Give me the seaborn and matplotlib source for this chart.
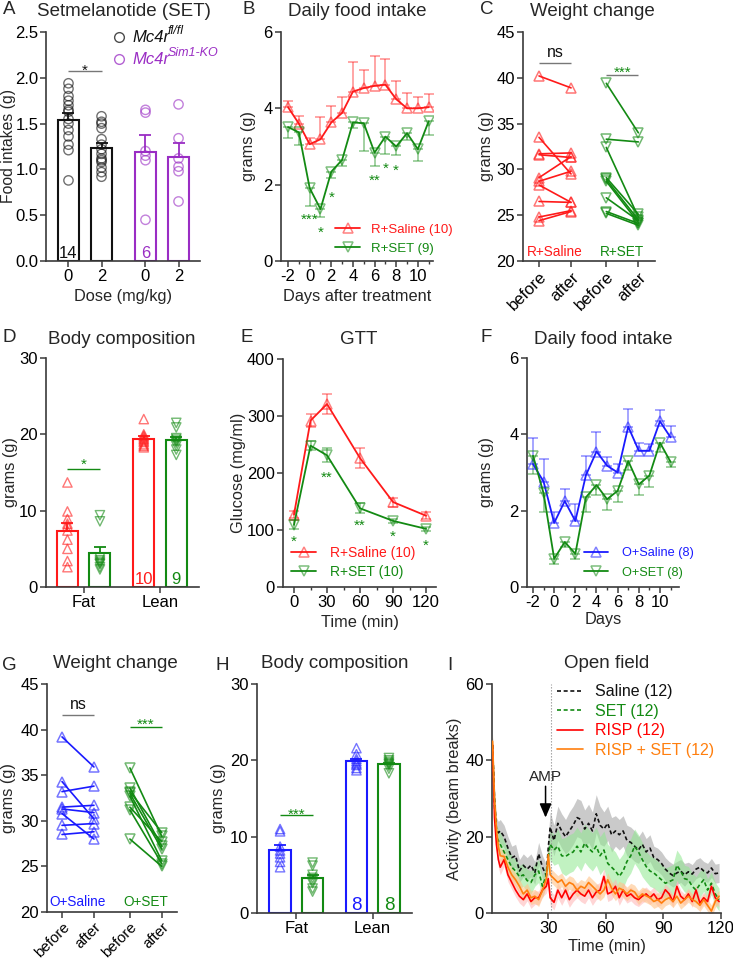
import numpy as np
import pandas as pd
import matplotlib
matplotlib.use("Agg")
import matplotlib.pyplot as plt
from matplotlib.lines import Line2D
from matplotlib.colors import to_rgba
from matplotlib.ticker import MultipleLocator
import seaborn as sns

# ======================= DATA =======================
# Panel A: food intake (g) after setmelanotide
A_tick_labels = ["0", "2", "0", "2"]
A_fl_0 = [1.94, 1.88, 1.80, 1.75, 1.70, 1.65, 1.63, 1.55, 1.50, 1.43, 1.36, 1.27, 1.21, 0.88]
A_fl_2 = [1.58, 1.52, 1.50, 1.45, 1.33, 1.27, 1.22, 1.17, 1.12, 1.10, 1.08, 1.02, 0.97, 0.92]
A_ko_0 = [1.65, 1.62, 1.20, 1.15, 1.10, 0.45]
A_ko_2 = [1.71, 1.34, 1.12, 1.03, 0.98, 0.65]

# Panel B: daily food intake (g), R mice
B_days = [-2, -1, 0, 1, 2, 3, 4, 5, 6, 7, 8, 9, 10, 11]
B_saline = [4.03, 3.60, 3.06, 3.19, 3.63, 3.88, 4.44, 4.53, 4.59, 4.62, 4.24, 4.00, 4.00, 4.03]
B_saline_sem = [0.17, 0.19, 0.16, 0.57, 0.44, 0.43, 0.77, 0.47, 0.79, 0.67, 0.48, 0.40, 0.29, 0.34]
B_set = [3.51, 3.37, 1.91, 1.36, 2.34, 2.65, 3.63, 3.61, 2.84, 3.26, 3.00, 3.35, 2.93, 3.66]
B_set_sem = [0.29, 0.33, 0.47, 0.21, 0.17, 0.17, 0.15, 0.74, 0.34, 0.45, 0.22, 0.17, 0.32, 0.35]
B_star_x = [0, 1, 2, 6, 7, 8]
B_star_y = [1.21, 0.86, 1.79, 2.23, 2.55, 2.48]
B_star_txt = ["***", "*", "*", "**", "*", "*"]

# Panel C: body weight before/after (g), R mice
C_saline_before = [40.2, 33.5, 31.7, 31.6, 29.1, 28.7, 28.3, 26.5, 24.8, 24.4]
C_saline_after = [38.9, 29.5, 31.8, 31.3, 31.4, 29.8, 26.4, 26.4, 25.5, 25.4]
C_set_before = [39.4, 33.3, 32.4, 29.1, 28.9, 28.7, 26.9, 25.4, 25.2]
C_set_after = [34.0, 33.0, 24.8, 25.1, 24.5, 24.2, 24.4, 24.1, 23.9]
C_tick_labels = ["before", "after", "before", "after"]

# Panel D: body composition (g), R mice
D_tick_labels = ["Fat", "Lean"]
D_fat_saline = [13.7, 9.9, 8.9, 8.3, 8.0, 7.4, 6.2, 5.0, 3.4, 2.6]
D_fat_set = [9.4, 8.6, 3.8, 3.5, 3.3, 3.1, 3.0, 2.6, 2.3]
D_lean_saline = [22.0, 20.0, 19.8, 19.6, 19.4, 19.2, 19.0, 18.7, 18.5, 18.3]
D_lean_set = [21.5, 20.9, 19.5, 19.3, 19.1, 18.9, 18.5, 18.0, 17.3]

# Panel E: GTT glucose
E_time = [0, 15, 30, 60, 90, 120]
E_saline = [127, 292, 321, 226, 149, 125]
E_saline_sem = [6, 12, 17, 17, 8, 6]
E_set = [109, 248, 231, 138, 116, 102]
E_set_sem = [8, 8, 12, 9, 4, 4]
E_star_x = [0, 30, 60, 90, 120]
E_star_y = [87, 200, 115, 97, 80]
E_star_txt = ["*", "**", "**", "*", "*"]

# Panel F: daily food intake (g), O mice
F_days = [-2, -1, 0, 1, 2, 3, 4, 5, 6, 7, 8, 9, 10, 11]
F_saline = [3.22, 2.76, 1.68, 2.25, 1.73, 2.93, 3.55, 3.18, 3.00, 4.20, 3.57, 3.57, 4.34, 3.92]
F_saline_sem = [0.68, 0.59, 0.29, 0.33, 0.44, 0.50, 0.50, 0.23, 0.22, 0.46, 0.20, 0.18, 0.29, 0.31]
F_set = [3.44, 2.45, 0.74, 1.18, 0.87, 2.35, 2.67, 2.30, 2.52, 3.30, 2.69, 2.92, 3.78, 3.28]
F_set_sem = [0.48, 0.48, 0.15, 0.13, 0.14, 0.39, 0.26, 0.29, 0.29, 0.24, 0.28, 0.29, 0.23, 0.13]

# Panel G: body weight before/after (g), O mice
G_saline_before = [39.2, 34.3, 33.2, 31.5, 31.3, 30.8, 29.5, 28.5]
G_saline_after = [35.9, 30.2, 33.8, 31.7, 30.9, 28.0, 29.7, 28.8]
G_set_before = [35.8, 33.6, 33.2, 33.0, 32.7, 31.5, 31.2, 28.0]
G_set_after = [28.3, 27.2, 28.7, 26.9, 25.6, 27.7, 25.3, 25.0]

# Panel H: body composition (g), O mice
H_fat_saline = [11.0, 10.7, 8.7, 8.2, 7.8, 7.3, 6.7, 6.0]
H_fat_set = [6.6, 6.2, 5.0, 4.6, 4.2, 3.9, 3.2, 2.8]
H_lean_saline = [21.6, 20.8, 20.2, 19.9, 19.6, 19.4, 19.0, 18.7]
H_lean_set = [20.3, 20.0, 19.8, 19.6, 19.5, 19.3, 18.9, 18.3]

# Panel I: open field activity (beam breaks)
I_time = [1, 2, 3, 4, 5, 7, 9, 11, 13, 15, 17, 19, 21, 23, 25, 27, 29, 30,
          31, 33, 35, 37, 39, 41, 43, 45, 47, 49, 51, 53, 55, 57, 59, 61, 63, 65, 67, 69,
          71, 73, 75, 77, 79, 81, 83, 85, 87, 89, 91, 93, 95, 97, 99, 101, 103, 105, 107, 109,
          111, 113, 115, 117, 119]
I_saline = [44, 30, 22, 21, 21.5,
            20, 17, 14.5, 15, 11, 12.5, 11.5, 12.5, 10.5, 15.5, 12, 9.8,
            17,
            22.5, 19, 23.5, 21.5, 20, 21.5, 23, 25, 24.5, 22,
            23.5, 21.5, 26, 23, 22, 23.5, 20.5, 21.5, 20.5, 21.5,
            19, 18.5, 17.5, 16.5, 18, 16, 17, 14.5, 14, 13,
            11.5, 10.5, 9.8, 10.5, 11, 10, 10.8, 10.2, 11.5, 12,
            11, 10.5, 11.8, 10.3, 10.5]
I_saline_sem = [2, 3, 3, 3, 3,
                3, 3, 3, 3, 3, 3, 3, 3, 3, 3, 3, 3,
                3,
                4, 4, 4.5, 4.5, 4.5, 5, 5, 5, 5, 5,
                5, 5, 5, 5, 4.5, 4.5, 4.5, 4, 4, 4,
                4, 4, 4, 3.5, 3.5, 3.5, 3.5, 3, 3, 3,
                3, 3, 3, 3, 3, 3, 2.5, 2.5, 2.5, 2.5,
                2.5, 2.5, 2.5, 2.5, 2.5]
I_set = [44, 28, 20, 19, 18,
         16, 14, 12, 11, 9.5, 10, 8.5, 8, 10, 11, 7, 10,
         14.5,
         18, 16.5, 17.5, 15, 14.8, 15.5, 16, 17.5, 16, 18.3,
         17, 16, 17.5, 15, 16.5, 13, 12, 11, 9.6, 11,
         13.5, 15, 17.5, 16, 14, 12.2, 11, 10.5, 9.6, 8.7,
         7.8, 8.2, 8.7, 12.5, 11, 9, 8.7, 7, 6, 7.5,
         8.7, 6, 7.8, 5, 3.5]
I_set_sem = [2, 3, 3, 3, 3,
             3, 3, 3, 3, 3, 3, 3, 3, 3, 3, 3, 3,
             3,
             4, 4, 4.5, 4.5, 5, 5, 5, 5, 5, 5,
             5, 5, 5, 5, 5, 5, 5, 5, 4.5, 4.5,
             4.5, 4.5, 4.5, 4.5, 4.5, 4, 4, 4, 4, 4,
             4, 4, 4, 4, 4, 3.5, 3.5, 3.5, 3.5, 3.5,
             3, 3, 3, 3, 3]
I_risp = [44, 25, 18, 14, 12,
          14, 10, 8, 6, 4.4, 3.5, 5, 3, 4, 4, 6, 7,
          9,
          4, 2.8, 6, 4, 6, 3.5, 5, 6, 5, 4.4,
          6, 4, 5.5, 6, 9.6, 5, 5.5, 7, 4, 6,
          4.4, 5, 4, 3.5, 4.4, 5, 4, 5, 3.5, 4,
          6.1, 5, 3, 7, 4.4, 3.5, 5, 3, 6, 2.6,
          4, 3, 7, 4, 3]
I_risp_sem = [2, 2, 2, 2, 2,
              1.8, 1.8, 1.8, 1.8, 1.8, 1.8, 1.8, 1.8, 1.8, 1.8, 1.8, 1.8,
              2,
              2, 2, 2, 2, 2, 2, 2, 2, 2, 2,
              2, 2, 2, 2, 2, 2, 2, 2, 2, 2,
              1.8, 1.8, 1.8, 1.8, 1.8, 1.8, 1.8, 1.8, 1.8, 1.8,
              1.5, 1.5, 1.5, 1.5, 1.5, 1.5, 1.5, 1.5, 1.5, 1.5,
              1.5, 1.5, 1.5, 1.5, 1.5]
I_rs = [45, 30, 22, 17.4, 15,
        14.8, 12, 10, 8.7, 7, 5, 6, 4, 4.4, 3.5, 6, 9,
        15.3,
        10, 9, 8, 8.7, 7, 8, 7.5, 6, 7, 6.5,
        8, 7, 6, 5, 6, 8.7, 6.5, 5, 6.5, 6,
        5, 6, 5.5, 4, 5, 4.5, 4, 3, 3.5, 2.6,
        3.5, 4, 3, 4.4, 2.6, 3.5, 4.4, 3.5, 3, 2,
        3.5, 2, 0.5, 3, 4.4]
I_rs_sem = [2, 2, 2, 2, 2,
            1.8, 1.8, 1.8, 1.8, 1.8, 1.8, 1.8, 1.8, 1.8, 1.8, 1.8, 1.8,
            2,
            1.8, 1.8, 1.8, 1.8, 1.8, 1.8, 1.8, 1.8, 1.8, 1.8,
            1.8, 1.8, 1.8, 1.8, 1.8, 1.8, 1.8, 1.8, 1.8, 1.8,
            1.8, 1.8, 1.8, 1.8, 1.8, 1.8, 1.8, 1.8, 1.8, 1.8,
            1.6, 1.6, 1.6, 1.6, 1.6, 1.6, 1.6, 1.6, 1.6, 1.6,
            1.6, 1.6, 1.6, 1.6, 1.6]
I_labels = ["Saline (12)", "SET (12)", "RISP (12)", "RISP + SET (12)"]

# ======================= STYLE =======================
sns.set_theme(style="ticks")
plt.rcParams["font.family"] = ["Liberation Sans", "DejaVu Sans"]
plt.rcParams["axes.linewidth"] = 1.2
plt.rcParams["axes.unicode_minus"] = False

BLACK = "#111111"
RED = "#FF1A1A"
GREEN = "#138A13"
BLUE = "#1A1AFF"
PURPLE = "#9A2DC4"
ORANGE = "#FF7F0E"
AXC = "#3a3a3a"

W, H = 733, 963
fig = plt.figure(figsize=(W / 100, H / 100), dpi=100)
fig.patch.set_facecolor("white")


def fx(x):
    return x / W


def fy(y):
    return 1 - y / H


def add_ax(l, t, r, b):
    ax = fig.add_axes([l / W, 1 - b / H, (r - l) / W, (b - t) / H])
    ax._px = (l, t, r, b)
    sns.despine(ax=ax)
    for s in ("left", "bottom"):
        ax.spines[s].set_color(AXC)
        ax.spines[s].set_linewidth(1.2)
    ax.tick_params(axis="both", which="major", direction="out", length=4, width=1.1,
                   color=AXC, labelsize=12, pad=2, labelcolor="black")
    ax.tick_params(axis="both", which="minor", direction="out", length=2.5, width=1.0, color=AXC)
    ax.set_facecolor("none")
    ax.grid(False)
    return ax


def ylab(ax, text, xc, size=None):
    """Place the y label centred at pixel column xc."""
    l, t, r, b = ax._px
    ax.set_ylabel(text, fontsize=size or LAB, va="center", ha="center")
    ax.yaxis.set_label_coords((xc - l) / (r - l), 0.5)


def ftext(x, y, s, **kw):
    fig.text(fx(x), fy(y), s, **kw)


def star(ax, x, y, s, color, size=11):
    ax.annotate(s, (x, y), xytext=(0, -6.3), textcoords="offset points",
                ha="center", va="baseline", fontsize=size, color=color)


def sig_line(ax, x0, x1, y, color):
    ax.plot([x0, x1], [y, y], color=color, lw=1.0, solid_capstyle="butt")


def bar_panel(ax, pos, groups, colors, markers, width, msize):
    means = [np.mean(g) for g in groups]
    sems = [np.std(g, ddof=1) / np.sqrt(len(g)) for g in groups]
    ax.bar(pos, means, width=width, color="white", edgecolor=colors, linewidth=1.5, zorder=2)
    for p, m, s, c in zip(pos, means, sems, colors):
        ax.errorbar([p], [m], yerr=[[0], [s]], fmt="none", ecolor=c, elinewidth=1.3,
                    capsize=4.5, capthick=1.3, zorder=2.4)
    for p, g, c, mk in zip(pos, groups, colors, markers):
        sns.scatterplot(x=[p] * len(g), y=g, ax=ax, marker=mk, s=msize, color=c,
                        facecolor="none", edgecolor=to_rgba(c, 0.6), linewidth=1.0,
                        zorder=3, legend=False)


def mean_line(ax, x, m, sem, color, marker, side, ms=7):
    sns.lineplot(x=x, y=m, ax=ax, color=color, linewidth=1.3, marker=marker, markersize=ms,
                 markerfacecolor="none", markeredgecolor=to_rgba(color, 0.55),
                 markeredgewidth=1.1, legend=False, errorbar=None, zorder=3)
    sem = np.asarray(sem, dtype=float)
    zero = np.zeros_like(sem)
    yerr = {"up": [zero, sem], "down": [sem, zero], "both": [sem, sem]}[side]
    ax.errorbar(x, m, yerr=yerr, fmt="none", ecolor=to_rgba(color, 0.5), elinewidth=1.1,
                capsize=3.5, capthick=1.1, zorder=2)


def line_handle(color, marker, ms=7):
    return Line2D([], [], color=color, lw=1.3, marker=marker, ms=ms, mfc="none",
                  mec=to_rgba(color, 0.55), mew=1.1)


def paired(ax, x0, x1, before, after, color, marker):
    n = len(before)
    df = pd.DataFrame({"mouse": list(range(n)) * 2,
                       "pos": [x0] * n + [x1] * n,
                       "w": list(before) + list(after)})
    sns.lineplot(data=df, x="pos", y="w", units="mouse", estimator=None, ax=ax, color=color,
                 linewidth=1.2, marker=marker, markersize=7, markerfacecolor="none",
                 markeredgecolor=to_rgba(color, 0.6), markeredgewidth=1.1,
                 legend=False, errorbar=None, sort=False)


TITLE = 13.5
LETTER = 13.5
LAB = 11.8

# ======================= PANEL A =======================
ax = add_ax(46, 32, 200, 261)
A_pos = [0, 1, 2.33, 3.33]
bar_panel(ax, A_pos, [A_fl_0, A_fl_2, A_ko_0, A_ko_2], [BLACK, BLACK, PURPLE, PURPLE],
          ["o", "o", "o", "o"], 0.64, 45)
ax.set_xlim(-0.68, 3.98)
ax.set_ylim(0, 2.5)
ax.set_yticks([0, 0.5, 1.0, 1.5, 2.0, 2.5])
ax.set_yticklabels(["0.0", "0.5", "1.0", "1.5", "2.0", "2.5"])
ax.tick_params(axis="y", pad=1.5)
ax.set_xticks(A_pos)
ax.set_xticklabels(A_tick_labels)
ax.set_xlabel("Dose (mg/kg)", fontsize=LAB, labelpad=3)
ylab(ax, "Food intakes (g)", 8, size=11.3)
sig_line(ax, 0, 1, 2.07, "#777777")
star(ax, 0.5, 2.13, "*", BLACK)
ax.annotate("14", (0, 0), xytext=(0, 2), textcoords="offset points", ha="center",
            va="baseline", fontsize=12, color=BLACK)
ax.annotate("6", (2.33, 0), xytext=(0, 2), textcoords="offset points", ha="center",
            va="baseline", fontsize=12, color=PURPLE)
# legend (manual)
for yy, col, sup in [(37, BLACK, "fl/fl"), (59, PURPLE, "Sim1-KO")]:
    fig.add_artist(Line2D([fx(119)], [fy(yy)], transform=fig.transFigure, marker="o", ls="",
                          ms=7, mfc="none", mec=to_rgba(col, 0.75), mew=1.0))
    ftext(132, yy, "Mc4r", fontsize=12, style="italic", color=col, ha="left", va="center")
    ftext(167.5, yy - 6, sup, fontsize=9, style="italic", color=col, ha="left", va="center")

# ======================= PANEL B =======================
ax = add_ax(281, 32, 433, 261)
mean_line(ax, B_days, B_saline, B_saline_sem, RED, "^", "up")
mean_line(ax, B_days, B_set, B_set_sem, GREEN, "v", "down")
for x, y, s in zip(B_star_x, B_star_y, B_star_txt):
    star(ax, x, y, s, GREEN)
ax.set_xlim(-2.65, 11.4)
ax.set_ylim(0, 6)
ax.set_xticks(range(-2, 11, 2))
ax.xaxis.set_minor_locator(MultipleLocator(1))
ax.set_yticks([0, 2, 4, 6])
ax.set_xlabel("Days after treatment", fontsize=LAB, labelpad=3)
ylab(ax, "grams (g)", 248)
ax.set_xticklabels([str(v) for v in range(-2, 11, 2)])
ax.legend([line_handle(RED, "^"), line_handle(GREEN, "v")], ["R+Saline (10)", "R+SET (9)"],
          loc="center left", bbox_to_anchor=(fx(335), fy(239)), bbox_transform=fig.transFigure,
          frameon=False, fontsize=9.5, handlelength=1.9, handletextpad=0.8, labelspacing=0.5,
          borderpad=0, borderaxespad=0, labelcolor=[RED, GREEN])

# ======================= PANEL C =======================
ax = add_ax(523, 32, 655, 261)
C_pos = [0, 1, 2.1, 3.1]
paired(ax, C_pos[0], C_pos[1], C_saline_before, C_saline_after, RED, "^")
paired(ax, C_pos[2], C_pos[3], C_set_before, C_set_after, GREEN, "v")
ax.set_xlim(-0.5, 3.62)
ax.set_ylim(20, 45)
ax.set_yticks([20, 25, 30, 35, 40, 45])
ax.set_xticks(C_pos)
ax.set_xticklabels(C_tick_labels, rotation=45, ha="right", rotation_mode="anchor")
ax.set_xlabel("")
ylab(ax, "grams (g)", 487)
sig_line(ax, 0, 1, 41.6, "#777777")
ax.text(0.5, 42.8, "ns", ha="center", va="center", fontsize=11.5, color=BLACK)
sig_line(ax, 2.1, 3.1, 40.35, "#777777")
star(ax, 2.6, 41.05, "***", GREEN)
ax.text(0.5, 21.0, "R+Saline", ha="center", va="center", fontsize=9.8, color=RED)
ax.text(2.6, 21.0, "R+SET", ha="center", va="center", fontsize=9.8, color=GREEN)

# ======================= PANEL D =======================
ax = add_ax(46, 358, 199, 587)
D_pos = [0, 1, 2.35, 3.35]
bar_panel(ax, D_pos, [D_fat_saline, D_fat_set, D_lean_saline, D_lean_set],
          [RED, GREEN, RED, GREEN], ["^", "v", "^", "v"], 0.65, 45)
ax.set_xlim(-0.66, 4.05)
ax.set_ylim(0, 30)
ax.set_yticks([0, 10, 20, 30])
ax.set_xticks([0.5, 2.85])
ax.set_xticklabels(D_tick_labels)
ylab(ax, "grams (g)", 10)
sig_line(ax, 0, 1, 15.5, GREEN)
star(ax, 0.5, 16.6, "*", GREEN)
ax.annotate("10", (2.35, 0), xytext=(0, 2), textcoords="offset points", ha="center",
            va="baseline", fontsize=12, color=RED)
ax.annotate("9", (3.35, 0), xytext=(0, 2), textcoords="offset points", ha="center",
            va="baseline", fontsize=12, color=GREEN)

# ======================= PANEL E =======================
ax = add_ax(283, 359, 436, 587)
mean_line(ax, E_time, E_saline, E_saline_sem, RED, "^", "both")
mean_line(ax, E_time, E_set, E_set_sem, GREEN, "v", "both")
for x, y, s in zip(E_star_x, E_star_y, E_star_txt):
    star(ax, x, y, s, GREEN)
ax.set_xlim(-10, 129)
ax.set_ylim(0, 400)
ax.set_xticks([0, 30, 60, 90, 120])
ax.xaxis.set_minor_locator(MultipleLocator(15))
ax.set_yticks([0, 100, 200, 300, 400])
ax.set_xlabel("Time (min)", fontsize=LAB, labelpad=3)
ylab(ax, "Glucose (mg/ml)", 239)
ax.legend([line_handle(RED, "^"), line_handle(GREEN, "v")], ["R+Saline (10)", "R+SET (10)"],
          loc="center left", bbox_to_anchor=(fx(291), fy(562.5)), bbox_transform=fig.transFigure,
          frameon=False, fontsize=10, handlelength=1.8, handletextpad=1.0, labelspacing=0.35,
          borderpad=0, borderaxespad=0, labelcolor=[RED, GREEN])

# ======================= PANEL F =======================
ax = add_ax(527, 358, 679, 587)
mean_line(ax, F_days, F_saline, F_saline_sem, BLUE, "^", "up")
mean_line(ax, F_days, F_set, F_set_sem, GREEN, "v", "down")
ax.set_xlim(-2.57, 11.8)
ax.set_ylim(0, 6)
ax.set_xticks(range(-2, 11, 2))
ax.xaxis.set_minor_locator(MultipleLocator(1))
ax.set_yticks([0, 2, 4, 6])
ax.set_xlabel("Days", fontsize=LAB, labelpad=1)
ylab(ax, "grams (g)", 487)
ax.legend([line_handle(BLUE, "^"), line_handle(GREEN, "v")], ["O+Saline (8)", "O+SET (8)"],
          loc="center left", bbox_to_anchor=(fx(584), fy(563)), bbox_transform=fig.transFigure,
          frameon=False, fontsize=9.2, handlelength=1.9, handletextpad=1.1, labelspacing=0.55,
          borderpad=0, borderaxespad=0, labelcolor=[BLUE, GREEN])

# ======================= PANEL G =======================
ax = add_ax(47, 684, 177, 912)
G_pos = [0, 1, 2.125, 3.125]
paired(ax, G_pos[0], G_pos[1], G_saline_before, G_saline_after, BLUE, "^")
paired(ax, G_pos[2], G_pos[3], G_set_before, G_set_after, GREEN, "v")
ax.set_xlim(-0.47, 3.6)
ax.set_ylim(20, 45)
ax.set_yticks([20, 25, 30, 35, 40, 45])
ax.set_xticks(G_pos)
ax.set_xticklabels(C_tick_labels, rotation=45, ha="right", rotation_mode="anchor", fontsize=10.8)
ax.tick_params(axis="x", pad=1.5)
ax.set_xlabel("")
ylab(ax, "grams (g)", 9)
sig_line(ax, 0, 1, 41.55, "#777777")
ax.text(0.5, 42.7, "ns", ha="center", va="center", fontsize=11.5, color=BLACK)
sig_line(ax, 2.125, 3.125, 40.3, GREEN)
star(ax, 2.625, 41.0, "***", GREEN)
ax.text(0.5, 21.1, "O+Saline", ha="center", va="center", fontsize=9.8, color=BLUE)
ax.text(2.625, 21.1, "O+SET", ha="center", va="center", fontsize=9.8, color=GREEN)

# ======================= PANEL H =======================
ax = add_ax(257, 684, 412, 913)
H_pos = [0, 1, 2.35, 3.35]
bar_panel(ax, H_pos, [H_fat_saline, H_fat_set, H_lean_saline, H_lean_set],
          [BLUE, GREEN, BLUE, GREEN], ["^", "v", "^", "v"], 0.66, 45)
ax.set_xlim(-0.71, 4.06)
ax.set_ylim(0, 30)
ax.set_yticks([0, 10, 20, 30])
ax.set_xticks([0.5, 2.85])
ax.set_xticklabels(D_tick_labels)
ylab(ax, "grams (g)", 219)
sig_line(ax, 0, 1, 12.9, GREEN)
star(ax, 0.5, 13.5, "***", GREEN)
ax.annotate("8", (2.35, 0), xytext=(0, 2), textcoords="offset points", ha="center",
            va="baseline", fontsize=13.5, color=BLUE)
ax.annotate("8", (3.35, 0), xytext=(0, 2), textcoords="offset points", ha="center",
            va="baseline", fontsize=13.5, color=GREEN)

# ======================= PANEL I =======================
ax = add_ax(492, 684, 721, 913)
t = np.asarray(I_time, dtype=float)
series = [
    (I_saline, I_saline_sem, BLACK, (0, (2.4, 1.6)), "#b9b9b9", 0.75),
    (I_set, I_set_sem, GREEN, (0, (2.4, 1.6)), "#8fe88f", 0.55),
    (I_risp, I_risp_sem, "#FF0000", "-", "#ffb3b3", 0.55),
    (I_rs, I_rs_sem, ORANGE, "-", "#ffc48a", 0.6),
]
for m, s, c, ls, fc, al in series:
    m = np.asarray(m, dtype=float)
    s = np.asarray(s, dtype=float)
    ax.fill_between(t, m - s, m + s, color=fc, alpha=al, lw=0, zorder=1)
for m, s, c, ls, fc, al in series:
    sns.lineplot(x=I_time, y=m, ax=ax, color=c, linewidth=1.2, linestyle=ls,
                 legend=False, errorbar=None, zorder=3)
ax.axvline(31.2, color="#9a9a9a", lw=0.8, ls=(0, (1.2, 1.5)), zorder=2)
ax.annotate("", xy=(28.6, 25.0), xytext=(28.6, 33.2),
            arrowprops=dict(arrowstyle="-|>,head_length=0.7,head_width=0.3", color="black",
                            lw=1.1, shrinkA=0, shrinkB=0))
ax.text(28.3, 35.6, "AMP", ha="center", va="center", fontsize=11)
ax.set_xlim(0.7, 120)
ax.set_ylim(0, 60)
ax.set_xticks([30, 60, 90, 120])
ax.set_yticks([0, 20, 40, 60])
ax.set_xlabel("Time (min)", fontsize=LAB, labelpad=2)
ylab(ax, "Activity (beam breaks)", 454)
I_handles = [Line2D([], [], color=c, lw=1.2, ls=ls) for m, s, c, ls, fc, al in series]
ax.legend(I_handles, I_labels, loc="center left", bbox_to_anchor=(fx(557), fy(721)),
          bbox_transform=fig.transFigure, frameon=False, fontsize=11.5, handlelength=1.6,
          handletextpad=0.8, labelspacing=0.28, borderpad=0, borderaxespad=0,
          labelcolor=[BLACK, GREEN, "#FF0000", ORANGE])

# ======================= TITLES / LETTERS =======================
for x, y, s in [(124, 12, "Setmelanotide (SET)"), (357, 12, "Daily food intake"),
                (592, 12, "Weight change"), (122, 340, "Body composition"),
                (359, 340, "GTT"), (603, 340, "Daily food intake"),
                (115, 663, "Weight change"), (335, 663, "Body composition"),
                (607, 663, "Open field")]:
    ftext(x, y, s, ha="center", va="center", fontsize=TITLE)
for x, y, s in [(3, 10, "A"), (242, 10, "B"), (480, 10, "C"),
                (2, 337, "D"), (241, 337, "E"), (481, 337, "F"),
                (2, 665, "G"), (216, 665, "H"), (447, 665, "I")]:
    ftext(x, y, s, ha="left", va="center", fontsize=LETTER)

fig.savefig("out.png", dpi=100, facecolor="white")
